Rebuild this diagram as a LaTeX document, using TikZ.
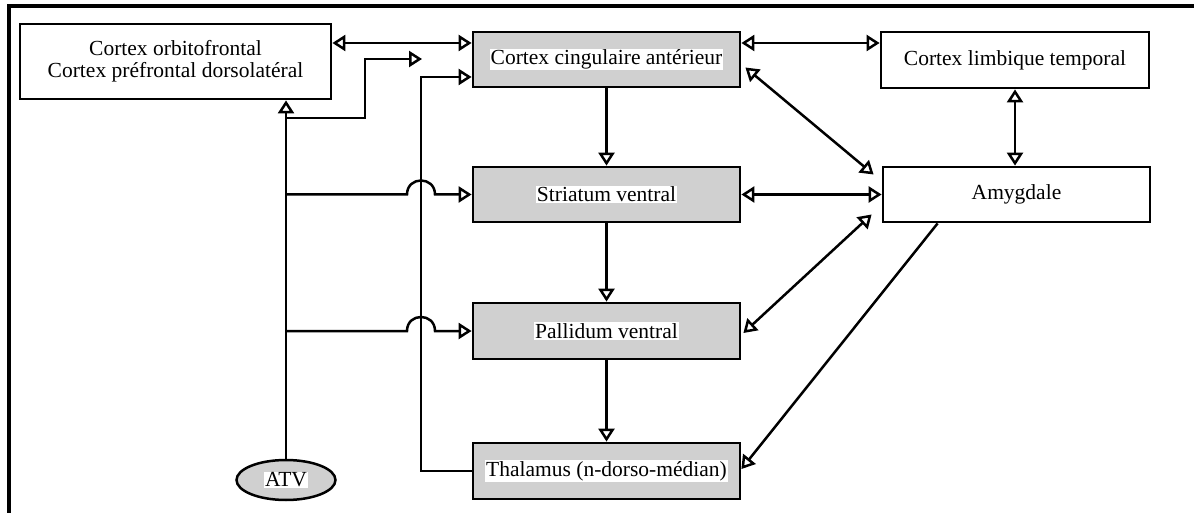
\documentclass[tikz,border=0pt]{standalone}
\usepackage{fontspec}
\setmainfont{Liberation Serif}
\usetikzlibrary{arrows.meta,calc,shapes.geometric}
\definecolor{boxgray}{RGB}{208,208,208}
\newcommand\hltext[1]{{\setlength{\fboxsep}{1pt}\colorbox{white}{#1}}}
\begin{document}
\begin{tikzpicture}[x=1pt,y=-1pt,
  every node/.style={font=\fontsize{21.5}{22}\selectfont},
  box/.style={draw, line width=2.8pt, rectangle, minimum width=267pt, minimum height=55pt, inner sep=0pt},
  graybox/.style={box, fill=boxgray},
  conn/.style={line width=2.5pt},
  arr/.style={conn, -{Triangle[open,length=13pt,width=16pt]}},
  biarr/.style={conn, {Triangle[open,length=13pt,width=16pt]}-{Triangle[open,length=13pt,width=16pt]}},
]
\useasboundingbox (0,0) rectangle (1194,513);
% frame
\draw[line width=3.5pt] (9,513) -- (9,6) -- (1194,6);

% nodes
\node[box, minimum width=311pt, minimum height=75pt, align=center] (of) at (175.5,61.5) {Cortex orbitofrontal\\Cortex préfrontal dorsolatéral};
\node[graybox] (cca) at (606.5,59.5) {\hltext{Cortex cingulaire antérieur}};
\node[box, minimum width=268pt, minimum height=56pt] (clt) at (1015,60) {Cortex limbique temporal};
\node[graybox] (sv) at (606.5,194.5) {\hltext{Striatum ventral}};
\node[box] (amy) at (1016.5,194.5) {Amygdale};
\node[graybox, minimum height=56pt] (pv) at (606.5,331) {\hltext{Pallidum ventral}};
\node[graybox, minimum height=56pt] (th) at (606.5,471) {\hltext{Thalamus (n-dorso-médian)}};
\node[ellipse, draw, line width=2.5pt, fill=boxgray, minimum width=99pt, minimum height=40pt, inner sep=0pt] (atv) at (286,480) {\hltext{ATV}};

% helper coordinates
\coordinate (ya) at (0,43);
\coordinate (yb) at (0,77);
\coordinate (vx) at (421,0);
\coordinate (k1) at (365,118);
\coordinate (k2) at (422,59);
\coordinate (sa) at ($(vx |- sv.west)+(-14,0)$);
\coordinate (sb) at ($(vx |- sv.west)+(14,0)$);
\coordinate (pa) at ($(vx |- pv.west)+(-14,0)$);
\coordinate (pb) at ($(vx |- pv.west)+(14,0)$);

% connectors
\draw[biarr] (of.east |- ya) -- (cca.west |- ya);
\draw[biarr] (cca.east |- ya) -- (clt.west |- ya);
\draw[arr] (atv.north) -- (atv.north |- of.south);
\draw[arr] (atv.north |- k1) -- (k1) -- (k1 |- k2) -- (k2);
\draw[arr] (th.west) -- (vx |- th.west) -- (vx |- yb) -- (cca.west |- yb);
\draw[arr] (atv.north |- sv.west) -- (sa) .. controls ($(sa)+(0,-18.7)$) and ($(sb)+(0,-18.7)$) .. (sb) -- (sv.west);
\draw[arr] (atv.north |- pv.west) -- (pa) .. controls ($(pa)+(0,-18.7)$) and ($(pb)+(0,-18.7)$) .. (pb) -- (pv.west);
\draw[arr] (cca.south) -- (sv.north);
\draw[arr] (sv.south) -- (pv.north);
\draw[arr] (pv.south) -- (th.north);
\draw[biarr] (clt.south) -- (clt.south |- amy.north);
\draw[biarr] ([shift={(4,8)}]cca.east) -- ([shift={(-8,-20)}]amy.west);
\draw[biarr] (sv.east) -- (amy.west);
\draw[biarr] ([shift={(2,2)}]pv.east) -- ([shift={(-10,20)}]amy.west);
\draw[arr] ([xshift=56pt]amy.south west) -- ([yshift=2pt]th.east);
\end{tikzpicture}
\end{document}
